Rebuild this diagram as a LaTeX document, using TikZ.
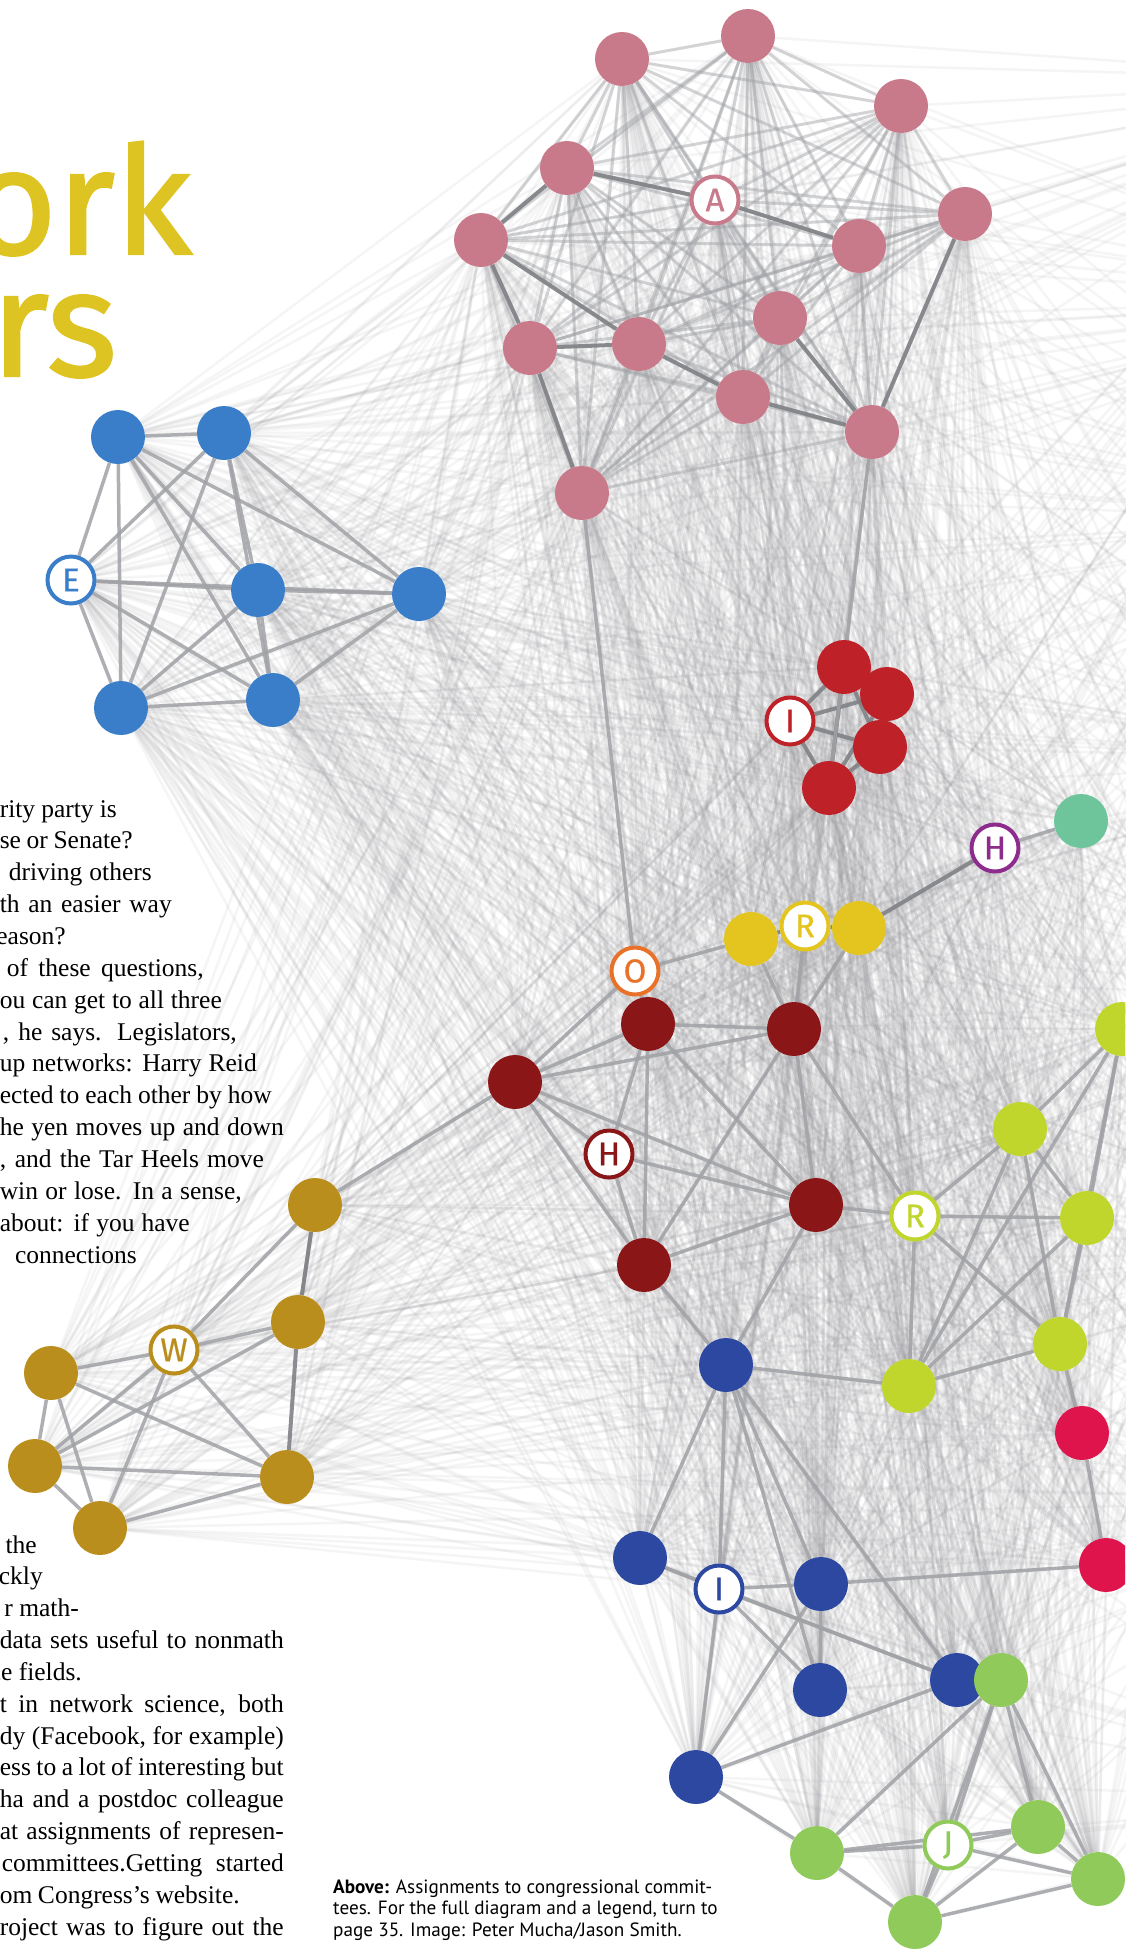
\documentclass[tikz,border=0pt]{standalone}
\usepackage{fontspec}
\setmainfont{Liberation Serif}
\newfontfamily\headfont{Fira Sans}[FakeBold=1.5]
\newfontfamily\tagfont{Fira Sans}[FakeBold=0.6]
\newfontfamily\notefont{PT Sans}
\usetikzlibrary{backgrounds}

\definecolor{pinkc}{RGB}{201,122,138}
\definecolor{bluec}{RGB}{58,126,202}
\definecolor{redc}{RGB}{190,34,40}
\definecolor{darkc}{RGB}{138,22,24}
\definecolor{orangec}{RGB}{232,114,42}
\definecolor{yellowc}{RGB}{228,196,30}
\definecolor{purplec}{RGB}{142,44,142}
\definecolor{tealc}{RGB}{110,196,155}
\definecolor{limec}{RGB}{192,214,44}
\definecolor{crimsonc}{RGB}{224,20,76}
\definecolor{navyc}{RGB}{44,72,160}
\definecolor{greenc}{RGB}{143,202,90}
\definecolor{goldc}{RGB}{186,142,28}
\definecolor{titlec}{RGB}{222,196,34}
\definecolor{hazec}{RGB}{150,150,155}
\definecolor{tiec}{RGB}{160,162,166}
\definecolor{firmc}{RGB}{128,130,134}

% committees that sit in the middle of the web
\def\corelist{pk1,pk2,pk3,pk4,pkA,pk5,pk6,pk7,pk8,pk9,pk10,pk11,pk12,pk13,rd1,rd2,rdI,rd3,rd4,hP,tl1,ye1,yeR,ye2,orO,dk1,dk2,dk3,dkH,dk4,dk5,lm1,lm2,lmR,lm3,lm4,lm5,cr1,cr2,nv1,nv2,nvI,nv3,nv4,nv5,nv6,gr1,gr2,grJ,gr3,gr4,gr5}
\def\goldreach{pk4,pkA,pk6,pk9,pk10,pk11,pk12,pk13,rd1,rdI,rd3,rd4,hP,tl1,ye1,yeR,ye2,orO,dk1,dk2,dk3,dkH,dk4,dk5,lm1,lm2,lmR,lm3,lm4,lm5,cr1,cr2,nv1,nv2,nvI,nv3}
\def\bluelist{bl1,bl2,blE,bl3,bl4,bl5,bl6}
\def\goldlist{gd1,gd2,gdW,gd3,gd4,gd5,gd6}
\def\pinklist{pk1,pk2,pk3,pk4,pkA,pk5,pk6,pk7,pk8,pk9,pk10,pk11,pk12,pk13}
\def\redlist{rd1,rd2,rdI,rd3,rd4}
\def\offlist{e1,e2,e3,e4,e5,e6,e7,e8}

\begin{document}
\begin{tikzpicture}[x=1pt, y=-1pt,
    dot/.style={circle, fill=#1, inner sep=0pt, minimum size=54pt},
    ring/.style={circle, draw=#1, fill=white, text=#1, line width=4pt,
      inner sep=0pt, minimum size=47pt, font=\tagfont\fontsize{33}{33}\selectfont},
    haze/.style={line width=2.5pt, draw=hazec, opacity=0.09},
    soft/.style={line width=3pt, draw=tiec, opacity=0.4},
    tie/.style={line width=3.5pt, draw=tiec, opacity=0.85},
    firm/.style={line width=4pt, draw=firmc, opacity=0.9},
    body/.style={anchor=base east, inner sep=0pt, font=\fontsize{25.5}{31.8}\selectfont},
    head/.style={anchor=base east, inner sep=0pt, text=titlec, text depth=1pt,
      font=\headfont\fontsize{150}{150}\selectfont},
  ]
  \useasboundingbox (0,0) rectangle (1125,1955);
  \clip (0,0) rectangle (1125,1955);

  % A
  \node[dot=pinkc] (pk1) at (622,59) {};
  \node[dot=pinkc] (pk2) at (748,36) {};
  \node[dot=pinkc] (pk3) at (901,106) {};
  \node[dot=pinkc] (pk4) at (567,168) {};
  \node[ring=pinkc] (pkA) at (715,200) {A};
  \node[dot=pinkc] (pk5) at (965,214) {};
  \node[dot=pinkc] (pk6) at (481,240) {};
  \node[dot=pinkc] (pk7) at (859,246) {};
  \node[dot=pinkc] (pk8) at (780,318) {};
  \node[dot=pinkc] (pk9) at (530,348) {};
  \node[dot=pinkc] (pk10) at (639,344) {};
  \node[dot=pinkc] (pk11) at (743,397) {};
  \node[dot=pinkc] (pk12) at (872,432) {};
  \node[dot=pinkc] (pk13) at (582,493) {};

  % E
  \node[dot=bluec] (bl1) at (118,437) {};
  \node[dot=bluec] (bl2) at (224,433) {};
  \node[ring=bluec] (blE) at (71,580) {E};
  \node[dot=bluec] (bl3) at (258,590) {};
  \node[dot=bluec] (bl4) at (419,594) {};
  \node[dot=bluec] (bl5) at (121,708) {};
  \node[dot=bluec] (bl6) at (273,700) {};

  % I (red)
  \node[dot=redc] (rd1) at (844,667) {};
  \node[dot=redc] (rd2) at (887,694) {};
  \node[dot=redc] (rd3) at (880,747) {};
  \node[dot=redc] (rd4) at (829,788) {};
  \node[ring=redc] (rdI) at (790,721) {I};

  \node[ring=purplec] (hP) at (995,848) {H};
  \node[dot=tealc] (tl1) at (1081,821) {};

  % R, O
  \node[dot=yellowc] (ye1) at (751,939) {};
  \node[dot=yellowc] (ye2) at (859,928) {};
  \node[ring=yellowc] (yeR) at (805,926) {R};
  \node[ring=orangec] (orO) at (635,971) {O};

  % H (dark red)
  \node[dot=darkc] (dk1) at (648,1024) {};
  \node[dot=darkc] (dk2) at (794,1029) {};
  \node[dot=darkc] (dk3) at (515,1082) {};
  \node[ring=darkc] (dkH) at (609,1154) {H};
  \node[dot=darkc] (dk4) at (816,1205) {};
  \node[dot=darkc] (dk5) at (644,1265) {};

  % R (lime)
  \node[dot=limec] (lm1) at (1122,1029) {};
  \node[dot=limec] (lm2) at (1020,1129) {};
  \node[ring=limec] (lmR) at (915,1216) {R};
  \node[dot=limec] (lm3) at (1087,1218) {};
  \node[dot=limec] (lm4) at (1060,1344) {};
  \node[dot=limec] (lm5) at (909,1386) {};
  \node[dot=crimsonc] (cr1) at (1082,1433) {};
  \node[dot=crimsonc] (cr2) at (1106,1565) {};

  % I (navy)
  \node[dot=navyc] (nv1) at (726,1365) {};
  \node[dot=navyc] (nv2) at (640,1558) {};
  \node[ring=navyc] (nvI) at (719,1589) {I};
  \node[dot=navyc] (nv3) at (821,1584) {};
  \node[dot=navyc] (nv4) at (820,1690) {};
  \node[dot=navyc] (nv5) at (957,1680) {};
  \node[dot=navyc] (nv6) at (696,1777) {};

  % J
  \node[dot=greenc] (gr1) at (1001,1680) {};
  \node[dot=greenc] (gr2) at (817,1853) {};
  \node[ring=greenc] (grJ) at (948,1845) {J};
  \node[dot=greenc] (gr3) at (1038,1827) {};
  \node[dot=greenc] (gr4) at (1098,1879) {};
  \node[dot=greenc] (gr5) at (915,1922) {};

  % W
  \node[dot=goldc] (gd1) at (315,1205) {};
  \node[dot=goldc] (gd2) at (298,1322) {};
  \node[ring=goldc] (gdW) at (174,1350) {W};
  \node[dot=goldc] (gd3) at (51,1373) {};
  \node[dot=goldc] (gd4) at (35,1466) {};
  \node[dot=goldc] (gd5) at (287,1477) {};
  \node[dot=goldc] (gd6) at (100,1528) {};

  % off the page
  \foreach \y [count=\k] in {80,300,520,760,1000,1250,1500,1800}
    \coordinate (e\k) at (1400,\y);

  \begin{scope}[on background layer]
    \fill[white] (0,0) rectangle (1125,1955);
    % faint web
    \foreach \a [count=\i] in \corelist {
      \foreach \b [count=\j] in \corelist {
        \ifnum\j>\i \draw[haze] (\a) -- (\b); \fi
      }
      \foreach \b in \offlist \draw[haze] (\a) -- (\b);
    }
    \foreach \a in \bluelist {
      \foreach \b in \corelist \draw[haze] (\a) -- (\b);
      \foreach \b in \offlist \draw[haze] (\a) -- (\b);
    }
    \foreach \a in \goldlist {
      \foreach \b in \goldreach \draw[haze] (\a) -- (\b);
      \foreach \b in {e5,e6,e7} \draw[haze] (\a) -- (\b);
    }

    % inside each committee
    \foreach \a [count=\i] in \pinklist
      \foreach \b [count=\j] in \pinklist {
        \ifnum\j>\i \draw[soft] (\a) -- (\b); \fi
      }
    \foreach \a [count=\i] in \bluelist
      \foreach \b [count=\j] in \bluelist {
        \ifnum\j>\i \draw[tie] (\a) -- (\b); \fi
      }
    \foreach \a [count=\i] in \redlist
      \foreach \b [count=\j] in \redlist {
        \ifnum\j>\i \draw[firm] (\a) -- (\b); \fi
      }
    \foreach \a/\b in {gd1/gd2,gd1/gdW,gd2/gdW,gdW/gd3,gdW/gd6,gdW/gd5,
        gdW/gd4,gd3/gd4,gd3/gd6,gd4/gd6,gd4/gd5,gd6/gd5,gd3/gd5,gd2/gd4,
        orO/dk3,orO/dk1,orO/ye1,ye1/dk2,yeR/dk2,ye2/dk2,
        dk1/dk3,dk1/dk2,dk1/dkH,dk1/dk5,dk1/dk4,dk3/dkH,dk3/dk2,dk3/dk4,
        dk3/dk5,dkH/dk4,dkH/dk5,dk2/dk4,dk2/dk5,dk5/dk4,hP/tl1,dk3/gd1,
        pk13/orO,pk12/rd4,dk2/lmR,dk4/lmR,dk4/nv1,dk5/nv1,
        lm1/lm2,lm1/lm3,lm1/lm4,lm1/lm5,lm2/lmR,lm2/lm3,lm2/lm4,lm2/lm5,
        lmR/lm3,lmR/lm4,lmR/lm5,lm3/lm4,lm3/lm5,lm4/lm5,lm4/cr1,lm5/nv1,
        cr1/cr2,cr2/nv3,
        nv1/nv2,nv1/nvI,nv1/nv3,nv1/nv4,nv1/nv5,nv2/nvI,nv2/nv5,nvI/nv3,
        nvI/nv6,nvI/nv5,nvI/nv4,nv3/nv4,nv6/nv5,nv6/gr2,nv6/nv3,
        gr1/gr2,gr1/grJ,gr1/gr3,gr1/gr4,gr1/gr5,gr2/grJ,gr2/gr5,gr2/gr3,
        grJ/gr3,grJ/gr4,grJ/gr5,gr3/gr4,gr3/gr5,gr4/gr5}
      \draw[tie] (\a) -- (\b);
    \foreach \a/\b in {pk6/pk4,pk6/pk10,pk4/pkA,pkA/pk7,pk9/pk13,pk11/pk12,
        pk10/pk11,pk8/pk12,pk5/pk12,pk9/pk10,pk6/pk9,gd1/gd2,gd2/gd5,
        ye2/hP,ye1/yeR,yeR/ye2,nv5/gr1}
      \draw[firm] (\a) -- (\b);
  \end{scope}

  % title
  \node[head, text height=110pt] (hd1) at (192,254) {ork};
  \node[head, text height=80pt] (hd2) at (117,376) {rs};

  % running text: right end / measure / alignment / words
  \foreach \x/\w/\a/\t [count=\k] in {117/117/s/{rity party is},
      133/133/s/{se or Senate?},152/143/s/{driving others},
      172/172/s/{th an easier way},66/66/r/{eason?},
      204/197/s/{of these questions,},222/222/s/{ou can get to all three},
      237/234/s/{, he says. Legislators,},257/257/s/{up networks: Harry Reid},
      272/272/s/{ected to each other by how},284/284/s/{he yen moves up and down},
      264/264/s/{, and the Tar Heels move},242/242/s/{win or lose. In a sense,},
      190/190/s/{about: if you have},137/137/r/{connections}}
    \node[body] (ta\k) at (\x,{817+31.86*(\k-1)}) {\makebox[\w pt][\a]{\t}};
  \foreach \x/\w/\a/\t [count=\k] in {37/37/r/{the},43/43/r/{ckly},
      79/79/r/{r math-},284/284/s/{data sets useful to nonmath},
      82/82/r/{ce fields.},284/284/s/{t in network science, both},
      284/284/s/{dy (Facebook, for example)},
      284/284/s/{ess to a lot of interesting but},
      284/284/s/{ha and a postdoc colleague},
      284/284/s/{at assignments of represen-},
      284/282/s/{committees.Getting started},
      240/240/s/{om Congress’s website.},
      284/284/s/{roject was to figure out the}}
    \node[body] (tb\k) at (\x,{1553+31.85*(\k-1)}) {\makebox[\w pt][\a]{\t}};

  % caption
  \foreach \t [count=\k] in {{\textbf{Above:} Assignments to congressional commit-},
      {tees. For the full diagram and a legend, turn to},
      {page 35. Image: Peter Mucha/Jason Smith.}}
    \node[anchor=base west, inner sep=0pt,
      font=\notefont\fontsize{19.2}{21.5}\selectfont] (cap\k) at (333,{1893+21.5*(\k-1)}) {\t};
\end{tikzpicture}
\end{document}
